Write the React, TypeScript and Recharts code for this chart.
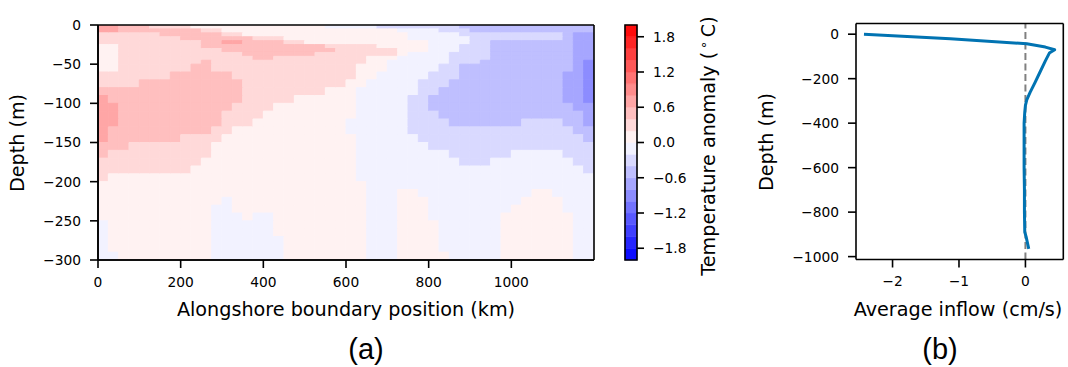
import React from 'react'
import {
  ComposedChart,
  ScatterChart,
  Bar,
  Cell,
  Scatter,
  XAxis,
  YAxis,
  ReferenceArea,
  ReferenceLine,
} from 'recharts'

const FONT = '"DejaVu Sans", sans-serif'

// (a) centre of each column along the boundary, km
const alongshoreKm = [
  12.5, 37.5, 62.5, 87.5, 112.5, 137.5, 162.5, 187.5, 212.5, 237.5, 262.5, 287.5,
  312.5, 337.5, 362.5, 387.5, 412.5, 437.5, 462.5, 487.5, 512.5, 537.5, 562.5, 587.5,
  612.5, 637.5, 662.5, 687.5, 712.5, 737.5, 762.5, 787.5, 812.5, 837.5, 862.5, 887.5,
  912.5, 937.5, 962.5, 987.5, 1012.5, 1037.5, 1062.5, 1087.5, 1112.5, 1137.5, 1162.5, 1187.5,
]

// (a) thickness of each depth layer, surface first, m
const layerThickness = [
  5, 5, 5, 5, 5, 5, 5, 5, 5, 5,
  10, 10, 10, 10, 10, 10, 10, 10, 10, 10, 10, 10, 10,
  10, 10, 10, 10, 10, 10, 10, 10, 10, 10, 10, 10,
]

// (a) contour band of each layer across the 48 columns, written as runs: band letter + count
const anomalyBands = [
  'D2 C3 B4 A13 a5 b8 c13',
  'D2 C8 B2 A17 a4 b3 c12',
  'B6 C6 B2 A16 a5 b10 c1 d2',
  'B8 C7 B3 A12 a6 b9 c1 d2',
  'B10 C2 D2 C4 B2 A12 a4 b2 c8 d2',
  'A2 B8 C12 B5 A5 a3 b3 c8 d2',
  'A2 B10 C11 B6 A3 a3 b3 c8 d2',
  'A2 B12 C7 B8 A1 a4 b4 c8 d2',
  'A2 B13 C2 B9 A3 a5 b4 c8 d2',
  'A2 B8 C1 B15 A2 a6 b3 c9 d1 e1',
  'A2 B7 C2 B14 A3 a5 b2 c11 d1 e1',
  'B7 C6 B12 A2 a5 b3 c10 d2 e1',
  'B4 C10 B10 A2 a5 b3 c11 d2 e1',
  'C14 B8 A3 a6 b2 c12 d2 e1',
  'D1 C13 B5 A6 a5 b2 c13 d2 e1',
  'D2 C11 B4 A8 a5 b2 c14 d2',
  'D2 C10 B4 A9 a5 b3 c14 d1',
  'D2 C10 B3 A9 a6 b4 c7 b4 c2 d1',
  'D1 C10 B2 A11 a6 b16 c2',
  'D1 C7 B4 A13 a6 b16 c1',
  'C3 B8 A14 a7 b16',
  'C1 B10 A14 a9 b6 a5 b3',
  'B10 A15 a10 b3 a8 b2',
  'B9 A16 a22 b1',
  'B1 A24 a23',
  'A26 a22',
  'A26 a3 A2 a11 A2 a4',
  'A12 a1 A13 a3 A3 a9 A4 a3',
  'A11 a2 A13 a3 A3 a8 A5 a3',
  'A11 a3 A1 a2 A9 a3 A3 a7 A7 a2',
  'a1 A10 a6 A9 a3 A4 a6 A7 a2',
  'a1 A10 a6 A9 a3 A4 a6 A7 a2',
  'a1 A10 a7 A8 a3 A4 a6 A7 a2',
  'a1 A10 a7 A8 a3 A4 a6 A7 a2',
  'a2 A9 a7 A8 a3 A5 a5 A7 a2',
]

// anomaly at the middle of each band, deg C
const bandAnomaly: Record<string, number> = {
  D: 0.7, C: 0.5, B: 0.3, A: 0.1, a: -0.1, b: -0.3, c: -0.5, d: -0.7, e: -0.9,
}

const colorLevels = [
  -2, -1.8, -1.6, -1.4, -1.2, -1, -0.8, -0.6, -0.4, -0.2, 0,
  0.2, 0.4, 0.6, 0.8, 1, 1.2, 1.4, 1.6, 1.8, 2,
]
const colorTicks = [1.8, 1.2, 0.6, 0, -0.6, -1.2, -1.8]
const kmTicks = [0, 200, 400, 600, 800, 1000]
const depthTicksA = [0, -50, -100, -150, -200, -250, -300]

// (b) boundary-averaged inflow profile
const inflowDepth = [0, -21, -43, -58, -70, -85, -120, -170, -220, -262, -295, -320, -350, -400, -500, -600, -700, -800, -890, -910, -965]
const inflowSpeed = [-2.43, -1.13, 0.02, 0.3, 0.44, 0.36, 0.3, 0.22, 0.14, 0.07, 0.02, 0, -0.01, -0.02, -0.02, -0.02, -0.015, -0.015, -0.01, 0.01, 0.05]
const speedTicks = [-2, -1, 0]
const depthTicksB = [0, -200, -400, -600, -800, -1000]

const decodeRow = (row: string) =>
  row.split(' ').flatMap((run) => Array(Number(run.slice(1))).fill(run[0]) as string[])

const bandGrid = anomalyBands.map(decodeRow)

// matplotlib "bwr" over -2..2
function bwr(v: number) {
  const t = Math.min(1, Math.max(0, (v + 2) / 4))
  let r = 1
  let g = 1
  let b = 1
  if (t < 0.5) {
    r = g = 2 * t
  } else {
    g = b = 2 - 2 * t
  }
  return `rgb(${Math.round(r * 255)},${Math.round(g * 255)},${Math.round(b * 255)})`
}

const signed = (v: number, digits = 0) => (v < 0 ? '\u2212' : '') + Math.abs(v).toFixed(digits)

const sectionData = alongshoreKm.map((km) => {
  const row: Record<string, number> = { km }
  layerThickness.forEach((t, j) => {
    row[`L${j}`] = -t
  })
  return row
})

const colorBands = colorLevels.slice(0, -1).map((lo, k) => ({
  lo,
  hi: colorLevels[k + 1],
  mid: (lo + colorLevels[k + 1]) / 2,
}))

const profile = inflowDepth.map((depth, i) => ({ depth, speed: inflowSpeed[i] }))

const tickStyle = { fill: '#000', fontSize: 13.8, fontFamily: FONT }
const axisLine = { stroke: '#000', strokeWidth: 1.6 }

export default function App() {
  return (
    <div
      style={{
        position: 'absolute',
        left: 0,
        top: 0,
        width: 1068,
        height: 367,
        background: '#fff',
        fontFamily: FONT,
      }}
    >
      <div style={{ position: 'absolute', left: 0, top: 0 }}>
        <ComposedChart
          width={610}
          height={300}
          data={sectionData}
          margin={{ top: 25, right: 16, bottom: 10, left: 38 }}
          barCategoryGap={0}
          barGap={0}
        >
          <XAxis
            dataKey="km"
            type="number"
            domain={[0, 1200]}
            ticks={kmTicks}
            allowDataOverflow
            height={30}
            tick={tickStyle}
            tickLine={axisLine}
            axisLine={axisLine}
            tickSize={8}
            tickMargin={9}
          />
          <YAxis
            type="number"
            domain={[-300, 0]}
            ticks={depthTicksA}
            allowDataOverflow
            width={60}
            tick={tickStyle}
            tickLine={axisLine}
            axisLine={axisLine}
            tickSize={8}
            tickMargin={9}
            tickFormatter={(v: number) => signed(v)}
          />
          {layerThickness.map((_, j) => (
            <Bar key={j} dataKey={`L${j}`} stackId="depth" isAnimationActive={false}>
              {bandGrid[j].map((band, i) => {
                const c = bwr(bandAnomaly[band])
                return <Cell key={i} fill={c} stroke={c} strokeWidth={1} />
              })}
            </Bar>
          ))}
          <ReferenceLine y={0} stroke="#000" strokeWidth={1.6} />
          <ReferenceLine y={-300} stroke="#000" strokeWidth={1.6} />
          <ReferenceLine x={0} stroke="#000" strokeWidth={1.6} />
          <ReferenceLine x={1200} stroke="#000" strokeWidth={1.6} />
        </ComposedChart>
      </div>

      <div style={{ position: 'absolute', left: 600, top: 0 }}>
        <ComposedChart
          width={100}
          height={300}
          data={colorBands}
          margin={{ top: 25, right: 0, bottom: 40, left: 25 }}
        >
          <XAxis hide />
          <YAxis
            orientation="right"
            type="number"
            domain={[-2, 2]}
            ticks={colorTicks}
            allowDataOverflow
            width={63}
            tick={tickStyle}
            tickLine={axisLine}
            axisLine={false}
            tickSize={7}
            tickMargin={9}
            tickFormatter={(v: number) => signed(v, 1)}
          />
          {colorBands.map((b) => (
            <ReferenceArea
              key={b.lo}
              y1={b.lo}
              y2={b.hi}
              fill={bwr(b.mid)}
              fillOpacity={1}
              stroke={bwr(b.mid)}
              strokeWidth={0.5}
            />
          ))}
          <ReferenceArea y1={-2} y2={2} fill="none" stroke="#000" strokeWidth={1.6} />
        </ComposedChart>
      </div>

      <div style={{ position: 'absolute', left: 760, top: 0 }}>
        <ScatterChart width={308} height={300} margin={{ top: 23.5, right: 4.7, bottom: 10.5, left: 36 }}>
          <XAxis
            dataKey="speed"
            type="number"
            domain={[-2.55, 0.57]}
            ticks={speedTicks}
            allowDataOverflow
            height={30}
            tick={tickStyle}
            tickLine={axisLine}
            axisLine={axisLine}
            tickSize={8}
            tickMargin={9}
            tickFormatter={(v: number) => signed(v)}
          />
          <YAxis
            dataKey="depth"
            type="number"
            domain={[-1013, 48]}
            ticks={depthTicksB}
            allowDataOverflow
            width={60}
            tick={tickStyle}
            tickLine={axisLine}
            axisLine={axisLine}
            tickSize={8}
            tickMargin={9}
            tickFormatter={(v: number) => signed(v)}
          />
          <Scatter
            data={profile}
            fill="#0173b2"
            line={{ strokeWidth: 3, strokeLinejoin: 'round' }}
            lineType="joint"
            shape={() => <g />}
            isAnimationActive={false}
          />
          <ReferenceLine x={0} stroke="#808080" strokeWidth={2} strokeDasharray="7 3.5" />
          <ReferenceLine y={48} stroke="#000" strokeWidth={1.6} />
          <ReferenceLine x={0.57} stroke="#000" strokeWidth={1.6} />
        </ScatterChart>
      </div>

      <svg
        width={1068}
        height={367}
        style={{ position: 'absolute', left: 0, top: 0, pointerEvents: 'none' }}
        fontFamily={FONT}
        fill="#000"
      >
        <text x={24} y={143} fontSize={19.2} textAnchor="middle" transform="rotate(-90 24 143)">
          Depth (m)
        </text>
        <text x={346} y={316} fontSize={19.2} textAnchor="middle">
          Alongshore boundary position (km)
        </text>
        <text x={366} y={359} fontSize={29} textAnchor="middle" fontFamily='"Liberation Sans", Arial, sans-serif'>
          (a)
        </text>
        <text x={715} y={146} fontSize={19.2} textAnchor="middle" transform="rotate(-90 715 146)">
          Temperature anomaly (
          <tspan fontSize={13} dy={-7}>
            {'\u2009\u2218'}
          </tspan>
          <tspan dy={7}>{'\u2009C)'}</tspan>
        </text>
        <text x={773} y={142} fontSize={19.2} textAnchor="middle" transform="rotate(-90 773 142)">
          Depth (m)
        </text>
        <text x={958} y={316} fontSize={19.2} textAnchor="middle">
          Average inflow (cm/s)
        </text>
        <text x={940} y={359} fontSize={29} textAnchor="middle" fontFamily='"Liberation Sans", Arial, sans-serif'>
          (b)
        </text>
      </svg>
    </div>
  )
}
